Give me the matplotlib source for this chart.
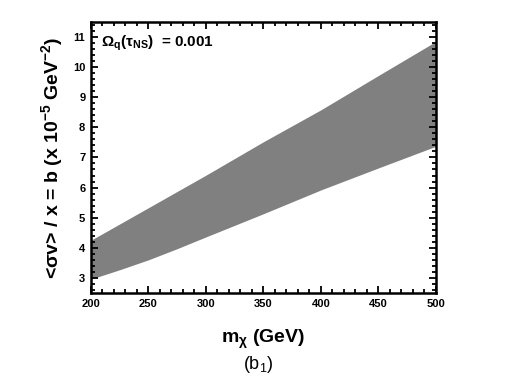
import matplotlib
matplotlib.use("Agg")
import matplotlib.pyplot as plt
from matplotlib.ticker import MultipleLocator
import numpy as np

# band
m_chi = [200, 225, 250, 275, 300, 350, 400, 450, 500]
b_upper = [4.25, 4.79, 5.33, 5.87, 6.41, 7.52, 8.58, 9.72, 10.85]
b_lower = [2.96, 3.27, 3.60, 3.97, 4.36, 5.13, 5.92, 6.65, 7.37]

x_ticks = [200, 250, 300, 350, 400, 450, 500]
y_ticks = [3, 4, 5, 6, 7, 8, 9, 10, 11]

plt.rcParams['font.family'] = ['Liberation Sans', 'DejaVu Sans']
plt.rcParams['mathtext.default'] = 'regular'

fig = plt.figure(figsize=(5.05, 3.78), dpi=100)
ax = fig.add_axes([0.180, 0.225, 0.683, 0.717])

ax.fill_between(m_chi, b_lower, b_upper, color="#808080", linewidth=0)

ax.set_xlim(200, 500)
ax.set_ylim(2.5, 11.5)
ax.set_xticks(x_ticks)
ax.set_yticks(y_ticks)
ax.xaxis.set_minor_locator(MultipleLocator(10))
ax.yaxis.set_minor_locator(MultipleLocator(0.2))
ax.tick_params(which="both", direction="in", top=True, right=True, width=1.3)
ax.tick_params(which="major", length=5, labelsize=8, pad=4)
ax.tick_params(which="minor", length=3)
for lab in ax.get_xticklabels() + ax.get_yticklabels():
    lab.set_fontweight("bold")
for sp in ax.spines.values():
    sp.set_linewidth(1.8)

ax.set_ylabel("<σv> / x = b (x 10$^{-5}$ GeV$^{-2}$)", fontsize=14,
              fontweight="bold", labelpad=6)
ax.set_xlabel("m$_χ$ (GeV)", fontsize=14, fontweight="bold", labelpad=14)
fig.text(0.511, 0.035, "(b$_1$)", fontsize=13, ha="center", va="center")

ax.text(0.03, 0.955, "Ω$_q$(τ$_{NS}$)  = 0.001", transform=ax.transAxes,
        fontsize=11, fontweight="bold", va="top", ha="left")

fig.savefig("out.png", dpi=100)
